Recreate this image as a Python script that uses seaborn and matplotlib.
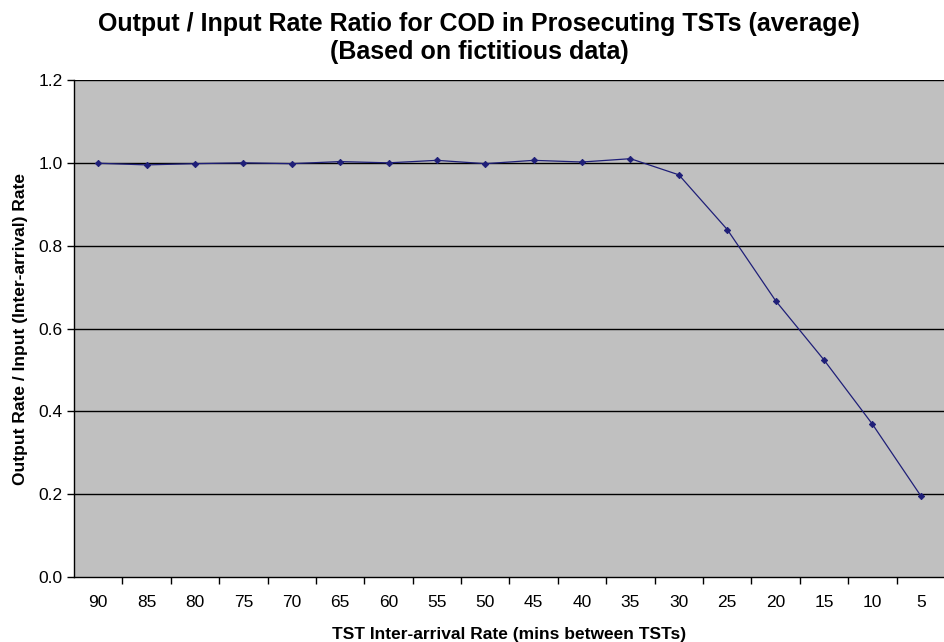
import matplotlib
matplotlib.use("Agg")
import matplotlib.pyplot as plt
from matplotlib.ticker import FixedLocator, FormatStrFormatter
import seaborn as sns
import pandas as pd

categories = ["90", "85", "80", "75", "70", "65", "60", "55", "50", "45",
              "40", "35", "30", "25", "20", "15", "10", "5"]
ratio = [0.999, 0.995, 0.998, 1.000, 0.998, 1.003, 1.000, 1.006, 0.998, 1.006,
         1.002, 1.010, 0.971, 0.839, 0.667, 0.524, 0.369, 0.196]

df = pd.DataFrame({"rate": categories, "ratio": ratio})

sns.set_style("white")
plt.rcParams["font.family"] = ["Liberation Sans", "DejaVu Sans"]
plt.rcParams["text.color"] = "black"
plt.rcParams["axes.labelcolor"] = "black"
plt.rcParams["xtick.color"] = "black"
plt.rcParams["ytick.color"] = "black"

fig = plt.figure(figsize=(9.45, 6.42), dpi=100)
ax = fig.add_axes([0.0783, 0.1012, 0.9217, 0.7742])
ax.set_facecolor("#C0C0C0")

sns.pointplot(data=df, x="rate", y="ratio", order=categories, ax=ax,
              color="#1F1F78", marker="D", markersize=3.2, linewidth=0.9,
              errorbar=None)

ax.set_xlim(-0.5, len(categories) - 0.5)
ax.set_ylim(0, 1.2)
ax.set_yticks([0.0, 0.2, 0.4, 0.6, 0.8, 1.0, 1.2])
ax.yaxis.set_major_formatter(FormatStrFormatter("%.1f"))
for yv in [0.2, 0.4, 0.6, 0.8, 1.0, 1.2]:
    ax.axhline(yv, color="black", lw=1.0, zorder=0.5)

ax.xaxis.set_minor_locator(FixedLocator([i + 0.5 for i in range(len(categories))]))
ax.tick_params(axis="x", which="major", length=0, pad=13, labelsize=12.5, labelcolor="black")
ax.tick_params(axis="x", which="minor", length=5, width=1, color="black", direction="out", bottom=True)
ax.tick_params(axis="y", which="major", length=5, width=1, color="black", direction="out", left=True,
               labelsize=12.5, pad=3, labelcolor="black")

for s in ["top", "right"]:
    ax.spines[s].set_visible(False)
for s in ["left", "bottom"]:
    ax.spines[s].set_visible(True)
    ax.spines[s].set_color("black")
    ax.spines[s].set_linewidth(1.0)

ax.set_xlabel("TST Inter-arrival Rate (mins between TSTs)", fontsize=12.5, fontweight="bold",
              labelpad=12, color="black")
ax.set_ylabel("Output Rate / Input (Inter-arrival) Rate", fontsize=12.5, fontweight="bold",
              labelpad=8, color="black")
fig.suptitle("Output / Input Rate Ratio for COD in Prosecuting TSTs (average)\n(Based on fictitious data)",
             fontsize=18, fontweight="bold", y=0.982, x=0.507, color="black", linespacing=1.22)

fig.savefig("out.png", dpi=100, facecolor="white")
